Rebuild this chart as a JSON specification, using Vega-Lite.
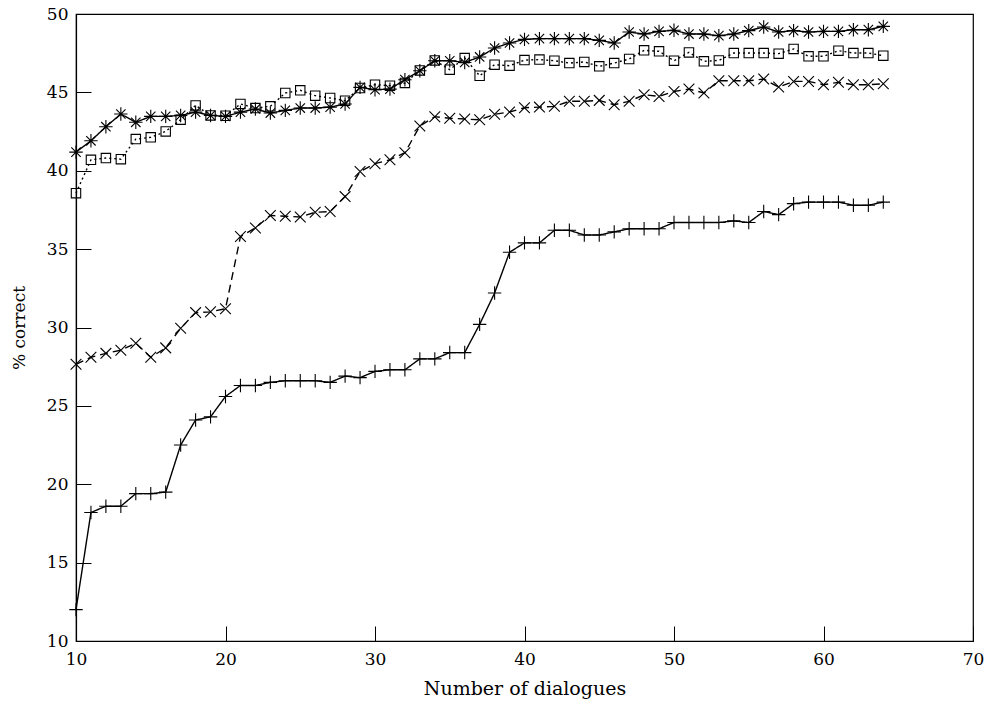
{
  "$schema": "https://vega.github.io/schema/vega-lite/v6.json",
  "width": 897,
  "height": 627,
  "autosize": {"type": "none"},
  "padding": {"left": 76, "top": 14, "right": 14, "bottom": 65},
  "background": "white",
  "config": {
    "view": {"stroke": "black", "strokeWidth": 1.2},
    "axis": {
      "grid": false,
      "domainColor": "black",
      "domainWidth": 1.2,
      "tickColor": "black",
      "tickWidth": 1,
      "tickSize": -15,
      "labelFont": "DejaVu Serif",
      "labelFontSize": 17,
      "labelColor": "black",
      "titleFont": "DejaVu Serif",
      "titleFontSize": 19,
      "titleFontWeight": "normal",
      "titleColor": "black"
    }
  },
  "data": {
    "values": [
      {"s":"plus","x":10,"y":12.0},{"s":"plus","x":11,"y":18.2},{"s":"plus","x":12,"y":18.6},{"s":"plus","x":13,"y":18.6},{"s":"plus","x":14,"y":19.4},{"s":"plus","x":15,"y":19.4},{"s":"plus","x":16,"y":19.5},{"s":"plus","x":17,"y":22.5},{"s":"plus","x":18,"y":24.1},{"s":"plus","x":19,"y":24.3},
      {"s":"plus","x":20,"y":25.6},{"s":"plus","x":21,"y":26.3},{"s":"plus","x":22,"y":26.3},{"s":"plus","x":23,"y":26.5},{"s":"plus","x":24,"y":26.6},{"s":"plus","x":25,"y":26.6},{"s":"plus","x":26,"y":26.6},{"s":"plus","x":27,"y":26.5},{"s":"plus","x":28,"y":26.9},{"s":"plus","x":29,"y":26.8},
      {"s":"plus","x":30,"y":27.2},{"s":"plus","x":31,"y":27.3},{"s":"plus","x":32,"y":27.3},{"s":"plus","x":33,"y":28.0},{"s":"plus","x":34,"y":28.0},{"s":"plus","x":35,"y":28.4},{"s":"plus","x":36,"y":28.4},{"s":"plus","x":37,"y":30.2},{"s":"plus","x":38,"y":32.2},{"s":"plus","x":39,"y":34.8},
      {"s":"plus","x":40,"y":35.4},{"s":"plus","x":41,"y":35.4},{"s":"plus","x":42,"y":36.2},{"s":"plus","x":43,"y":36.2},{"s":"plus","x":44,"y":35.9},{"s":"plus","x":45,"y":35.9},{"s":"plus","x":46,"y":36.1},{"s":"plus","x":47,"y":36.3},{"s":"plus","x":48,"y":36.3},{"s":"plus","x":49,"y":36.3},
      {"s":"plus","x":50,"y":36.7},{"s":"plus","x":51,"y":36.7},{"s":"plus","x":52,"y":36.7},{"s":"plus","x":53,"y":36.7},{"s":"plus","x":54,"y":36.8},{"s":"plus","x":55,"y":36.7},{"s":"plus","x":56,"y":37.4},{"s":"plus","x":57,"y":37.2},{"s":"plus","x":58,"y":37.9},{"s":"plus","x":59,"y":38.0},
      {"s":"plus","x":60,"y":38.0},{"s":"plus","x":61,"y":38.0},{"s":"plus","x":62,"y":37.8},{"s":"plus","x":63,"y":37.8},{"s":"plus","x":64,"y":38.0},

      {"s":"cross","x":10,"y":27.65},{"s":"cross","x":11,"y":28.1},{"s":"cross","x":12,"y":28.35},{"s":"cross","x":13,"y":28.55},{"s":"cross","x":14,"y":29.0},{"s":"cross","x":15,"y":28.1},{"s":"cross","x":16,"y":28.7},{"s":"cross","x":17,"y":29.95},{"s":"cross","x":18,"y":30.95},{"s":"cross","x":19,"y":31.0},
      {"s":"cross","x":20,"y":31.2},{"s":"cross","x":21,"y":35.8},{"s":"cross","x":22,"y":36.35},{"s":"cross","x":23,"y":37.15},{"s":"cross","x":24,"y":37.1},{"s":"cross","x":25,"y":37.05},{"s":"cross","x":26,"y":37.35},{"s":"cross","x":27,"y":37.4},{"s":"cross","x":28,"y":38.35},{"s":"cross","x":29,"y":39.95},
      {"s":"cross","x":30,"y":40.45},{"s":"cross","x":31,"y":40.7},{"s":"cross","x":32,"y":41.15},{"s":"cross","x":33,"y":42.85},{"s":"cross","x":34,"y":43.45},{"s":"cross","x":35,"y":43.35},{"s":"cross","x":36,"y":43.3},{"s":"cross","x":37,"y":43.25},{"s":"cross","x":38,"y":43.6},{"s":"cross","x":39,"y":43.75},
      {"s":"cross","x":40,"y":44.02},{"s":"cross","x":41,"y":44.06},{"s":"cross","x":42,"y":44.11},{"s":"cross","x":43,"y":44.43},{"s":"cross","x":44,"y":44.43},{"s":"cross","x":45,"y":44.49},{"s":"cross","x":46,"y":44.21},{"s":"cross","x":47,"y":44.43},{"s":"cross","x":48,"y":44.85},{"s":"cross","x":49,"y":44.74},
      {"s":"cross","x":50,"y":45.06},{"s":"cross","x":51,"y":45.21},{"s":"cross","x":52,"y":44.96},{"s":"cross","x":53,"y":45.74},{"s":"cross","x":54,"y":45.74},{"s":"cross","x":55,"y":45.74},{"s":"cross","x":56,"y":45.85},{"s":"cross","x":57,"y":45.34},{"s":"cross","x":58,"y":45.7},{"s":"cross","x":59,"y":45.7},
      {"s":"cross","x":60,"y":45.49},{"s":"cross","x":61,"y":45.64},{"s":"cross","x":62,"y":45.49},{"s":"cross","x":63,"y":45.49},{"s":"cross","x":64,"y":45.55},

      {"s":"box","x":10,"y":38.57},{"s":"box","x":11,"y":40.7},{"s":"box","x":12,"y":40.81},{"s":"box","x":13,"y":40.74},{"s":"box","x":14,"y":42.02},{"s":"box","x":15,"y":42.13},{"s":"box","x":16,"y":42.51},{"s":"box","x":17,"y":43.26},{"s":"box","x":18,"y":44.17},{"s":"box","x":19,"y":43.53},
      {"s":"box","x":20,"y":43.51},{"s":"box","x":21,"y":44.26},{"s":"box","x":22,"y":44.0},{"s":"box","x":23,"y":44.11},{"s":"box","x":24,"y":44.96},{"s":"box","x":25,"y":45.13},{"s":"box","x":26,"y":44.79},{"s":"box","x":27,"y":44.64},{"s":"box","x":28,"y":44.47},{"s":"box","x":29,"y":45.28},
      {"s":"box","x":30,"y":45.49},{"s":"box","x":31,"y":45.43},{"s":"box","x":32,"y":45.6},{"s":"box","x":33,"y":46.4},{"s":"box","x":34,"y":47.04},{"s":"box","x":35,"y":46.45},{"s":"box","x":36,"y":47.19},{"s":"box","x":37,"y":46.06},{"s":"box","x":38,"y":46.77},{"s":"box","x":39,"y":46.7},
      {"s":"box","x":40,"y":47.06},{"s":"box","x":41,"y":47.09},{"s":"box","x":42,"y":47.02},{"s":"box","x":43,"y":46.87},{"s":"box","x":44,"y":46.94},{"s":"box","x":45,"y":46.66},{"s":"box","x":46,"y":46.87},{"s":"box","x":47,"y":47.13},{"s":"box","x":48,"y":47.68},{"s":"box","x":49,"y":47.62},
      {"s":"box","x":50,"y":47.02},{"s":"box","x":51,"y":47.55},{"s":"box","x":52,"y":46.98},{"s":"box","x":53,"y":47.04},{"s":"box","x":54,"y":47.51},{"s":"box","x":55,"y":47.51},{"s":"box","x":56,"y":47.51},{"s":"box","x":57,"y":47.47},{"s":"box","x":58,"y":47.77},{"s":"box","x":59,"y":47.3},
      {"s":"box","x":60,"y":47.3},{"s":"box","x":61,"y":47.66},{"s":"box","x":62,"y":47.51},{"s":"box","x":63,"y":47.51},{"s":"box","x":64,"y":47.34},

      {"s":"star","x":10,"y":41.19},{"s":"star","x":11,"y":41.91},{"s":"star","x":12,"y":42.81},{"s":"star","x":13,"y":43.62},{"s":"star","x":14,"y":43.09},{"s":"star","x":15,"y":43.47},{"s":"star","x":16,"y":43.47},{"s":"star","x":17,"y":43.53},{"s":"star","x":18,"y":43.74},{"s":"star","x":19,"y":43.53},
      {"s":"star","x":20,"y":43.47},{"s":"star","x":21,"y":43.74},{"s":"star","x":22,"y":43.94},{"s":"star","x":23,"y":43.68},{"s":"star","x":24,"y":43.85},{"s":"star","x":25,"y":44.0},{"s":"star","x":26,"y":44.0},{"s":"star","x":27,"y":44.06},{"s":"star","x":28,"y":44.26},{"s":"star","x":29,"y":45.32},
      {"s":"star","x":30,"y":45.17},{"s":"star","x":31,"y":45.21},{"s":"star","x":32,"y":45.81},{"s":"star","x":33,"y":46.38},{"s":"star","x":34,"y":47.02},{"s":"star","x":35,"y":47.02},{"s":"star","x":36,"y":46.91},{"s":"star","x":37,"y":47.26},{"s":"star","x":38,"y":47.83},{"s":"star","x":39,"y":48.15},
      {"s":"star","x":40,"y":48.38},{"s":"star","x":41,"y":48.43},{"s":"star","x":42,"y":48.43},{"s":"star","x":43,"y":48.43},{"s":"star","x":44,"y":48.43},{"s":"star","x":45,"y":48.32},{"s":"star","x":46,"y":48.15},{"s":"star","x":47,"y":48.85},{"s":"star","x":48,"y":48.72},{"s":"star","x":49,"y":48.89},
      {"s":"star","x":50,"y":48.96},{"s":"star","x":51,"y":48.72},{"s":"star","x":52,"y":48.72},{"s":"star","x":53,"y":48.62},{"s":"star","x":54,"y":48.72},{"s":"star","x":55,"y":48.94},{"s":"star","x":56,"y":49.17},{"s":"star","x":57,"y":48.85},{"s":"star","x":58,"y":48.94},{"s":"star","x":59,"y":48.85},
      {"s":"star","x":60,"y":48.89},{"s":"star","x":61,"y":48.89},{"s":"star","x":62,"y":49.0},{"s":"star","x":63,"y":49.0},{"s":"star","x":64,"y":49.21}
    ]
  },
  "encoding": {
    "x": {
      "field": "x",
      "type": "quantitative",
      "scale": {"domain": [10, 70], "nice": false, "zero": false},
      "axis": {"values": [10, 20, 30, 40, 50, 60, 70], "title": "Number of dialogues", "labelPadding": 25, "titlePadding": 12, "labelFlush": false}
    },
    "y": {
      "field": "y",
      "type": "quantitative",
      "scale": {"domain": [10, 50], "nice": false, "zero": false},
      "axis": {"values": [10, 15, 20, 25, 30, 35, 40, 45, 50], "title": "% correct", "titleFontSize": 17, "labelPadding": 23, "titlePadding": 18, "labelFlush": false}
    }
  },
  "layer": [
    {
      "mark": {"type": "line", "color": "black", "strokeWidth": 1.4},
      "encoding": {
        "detail": {"field": "s", "type": "nominal"},
        "strokeDash": {
          "field": "s",
          "type": "nominal",
          "scale": {"domain": ["plus", "cross", "box", "star"], "range": [[1, 0], [8, 5], [2, 3], [1, 0]]},
          "legend": null
        }
      }
    },
    {
      "mark": {"type": "point", "filled": false, "color": "black", "strokeWidth": 1.1, "opacity": 1, "size": 180},
      "encoding": {
        "shape": {
          "field": "s",
          "type": "nominal",
          "scale": {
            "domain": ["plus", "cross", "box", "star"],
            "range": [
              "M-1,0L1,0M0,-1L0,1",
              "M-0.8,-0.8L0.8,0.8M-0.8,0.8L0.8,-0.8",
              "M-0.7,-0.7L0.7,-0.7L0.7,0.7L-0.7,0.7Z",
              "M-1,0L1,0M0,-1L0,1M-0.7,-0.7L0.7,0.7M-0.7,0.7L0.7,-0.7"
            ]
          },
          "legend": null
        }
      }
    }
  ]
}
